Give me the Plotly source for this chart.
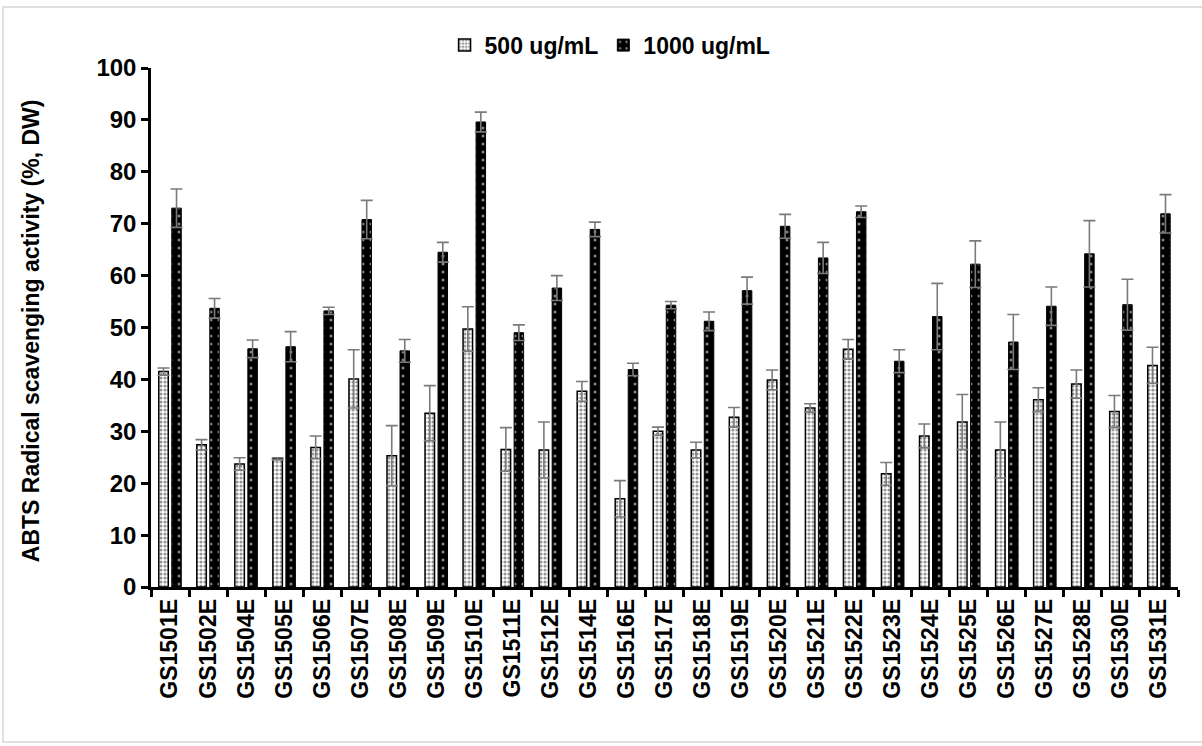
import plotly.graph_objects as go

# Extract codes on the category axis
categories = ["GS1501E", "GS1502E", "GS1504E", "GS1505E", "GS1506E", "GS1507E",
              "GS1508E", "GS1509E", "GS1510E", "GS1511E", "GS1512E", "GS1514E",
              "GS1516E", "GS1517E", "GS1518E", "GS1519E", "GS1520E", "GS1521E",
              "GS1522E", "GS1523E", "GS1524E", "GS1525E", "GS1526E", "GS1527E",
              "GS1528E", "GS1530E", "GS1531E"]

# ABTS scavenging activity (%) at 500 ug/mL, with standard deviation
abts_500 = [41.5, 27.4, 23.7, 24.7, 26.9, 40.1, 25.3, 33.5, 49.7, 26.5, 26.4, 37.7,
            17.0, 30.0, 26.4, 32.7, 39.9, 34.5, 45.8, 21.8, 29.1, 31.8, 26.4, 36.1,
            39.1, 33.8, 42.7]
sd_500 = [0.7, 1.0, 1.2, 0.2, 2.2, 5.6, 5.8, 5.3, 4.3, 4.2, 5.4, 1.9,
          3.5, 0.8, 1.5, 1.9, 1.9, 0.8, 1.9, 2.2, 2.3, 5.3, 5.4, 2.3,
          2.7, 3.1, 3.5]

# ABTS scavenging activity (%) at 1000 ug/mL, with standard deviation
abts_1000 = [73.0, 53.7, 45.9, 46.3, 53.2, 70.8, 45.5, 64.5, 89.6, 49.0, 57.6, 68.9,
             41.9, 54.3, 51.2, 57.1, 69.5, 63.4, 72.3, 43.5, 52.1, 62.2, 47.2, 54.1,
             64.2, 54.4, 71.9]
sd_1000 = [3.7, 1.9, 1.7, 2.9, 0.7, 3.7, 2.2, 1.9, 1.9, 1.5, 2.4, 1.4,
           1.2, 0.7, 1.8, 2.6, 2.3, 3.0, 1.1, 2.2, 6.4, 4.5, 5.3, 3.7,
           6.4, 4.9, 3.7]

series_names = ["500 ug/mL", "1000 ug/mL"]
y_ticks = [0, 10, 20, 30, 40, 50, 60, 70, 80, 90, 100]

FONT = "Liberation Sans, Arial, sans-serif"
ERR_COLOR = "#7a7a7a"

fig = go.Figure()

fig.add_trace(go.Bar(
    name=series_names[0],
    x=categories,
    y=abts_500,
    error_y=dict(type="data", array=sd_500, visible=True,
                 color=ERR_COLOR, thickness=1.6, width=6),
    marker=dict(
        color="white",
        line=dict(color="black", width=1.5),
        pattern=dict(shape=".", fgcolor="#2e2e2e", bgcolor="white",
                     size=4, solidity=0.5),
    ),
))

fig.add_trace(go.Bar(
    name=series_names[1],
    x=categories,
    y=abts_1000,
    error_y=dict(type="data", array=sd_1000, visible=True,
                 color=ERR_COLOR, thickness=1.6, width=6),
    marker=dict(
        color="black",
        line=dict(color="black", width=1),
        pattern=dict(shape=".", fgcolor="white", bgcolor="black",
                     size=8, solidity=0.12),
    ),
))

# Y-axis title
fig.add_annotation(
    text="ABTS Radical scavenging activity (%, DW)",
    xref="paper", yref="paper",
    x=-0.1168, y=0.493,
    xanchor="center", yanchor="middle",
    textangle=-90, showarrow=False,
    font=dict(family=FONT, size=23, color="black", weight="bold"),
)

# Light frame around the chart area
fig.add_shape(
    type="rect", xref="paper", yref="paper",
    x0=-0.1441, x1=1.03, y0=-0.2987, y1=1.1175,
    line=dict(color="#d6d6d6", width=1.5),
    fillcolor="rgba(0,0,0,0)", layer="below",
)

fig.update_layout(
    width=1202, height=746,
    margin=dict(l=151, r=24, t=68, b=159),
    paper_bgcolor="white", plot_bgcolor="white",
    barmode="group", bargap=0.316, bargroupgap=0.27,
    font=dict(family=FONT, size=23, color="black", weight="bold"),
    showlegend=True,
    legend=dict(
        orientation="h", x=0.447, xanchor="center", y=1.044, yanchor="middle",
        font=dict(family=FONT, size=23, color="black", weight="bold"),
        itemwidth=30, bgcolor="rgba(0,0,0,0)", traceorder="normal",
    ),
)

fig.update_xaxes(
    type="category",
    showline=True, linecolor="black", linewidth=2.5,
    ticks="outside", tickson="boundaries", ticklen=7, tickwidth=2.5,
    tickcolor="black", tickangle=-90,
    tickfont=dict(family=FONT, size=23, color="black", weight="bold"),
    showgrid=False, zeroline=False,
)

fig.update_yaxes(
    range=[0, 100], tickvals=y_ticks,
    showline=True, linecolor="black", linewidth=2.5,
    ticks="outside", ticklen=7, tickwidth=2.5, tickcolor="black",
    tickfont=dict(family=FONT, size=24, color="black", weight="bold"),
    showgrid=False, zeroline=False,
)

fig.write_html("out.html")
